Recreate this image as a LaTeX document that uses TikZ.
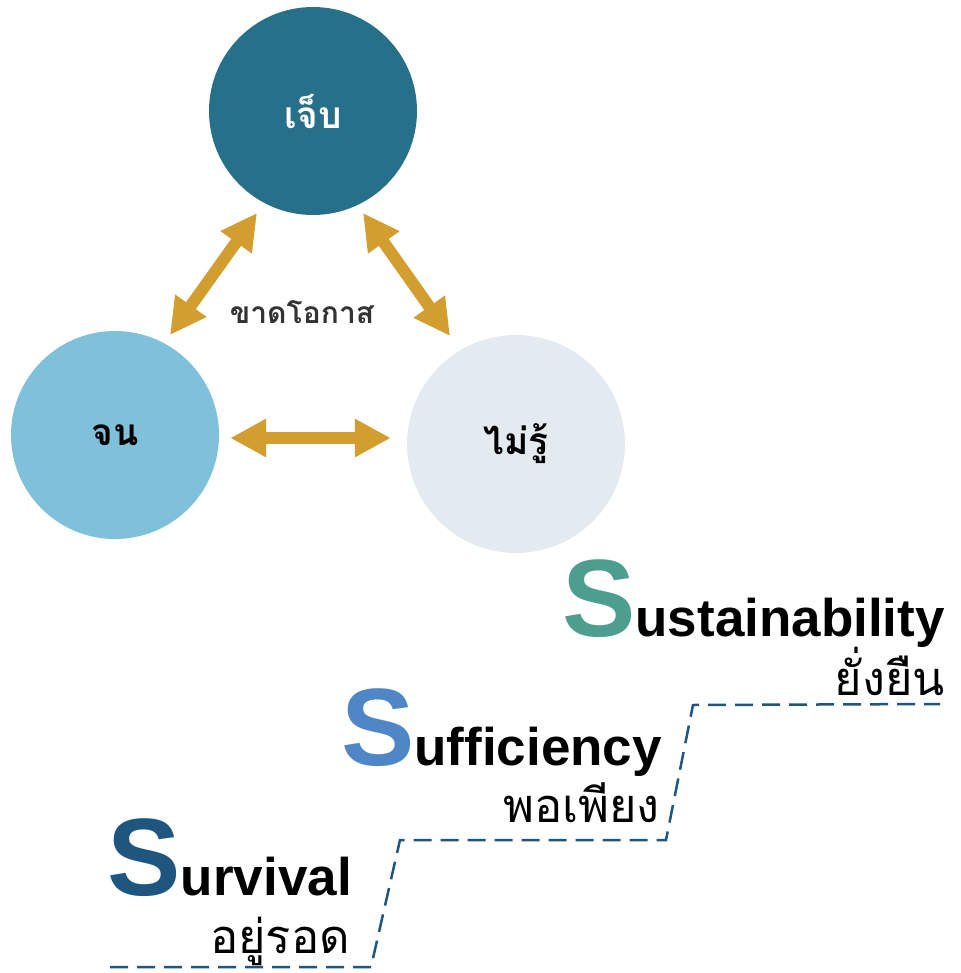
\documentclass[tikz,border=0pt]{standalone}
\usepackage{fontspec}
\setmainfont{Liberation Sans}
\newfontfamily\thaifont[Script=Thai]{Loma}
\usetikzlibrary{arrows.meta,calc}
\definecolor{cTop}{RGB}{39,112,138}
\definecolor{cLeft}{RGB}{127,192,219}
\definecolor{cRight}{RGB}{227,235,240}
\definecolor{cGold}{RGB}{210,158,47}
\definecolor{cTeal}{RGB}{78,158,143}
\definecolor{cBlue}{RGB}{79,134,198}
\definecolor{cDark}{RGB}{31,86,128}
\definecolor{cLabel}{RGB}{51,51,51}
\tikzset{
  circ/.style={circle,inner sep=0pt,draw=none},
  twoway/.style={cGold,line width=12pt,{Triangle[width=36pt,length=36pt]}-{Triangle[width=36pt,length=36pt]}},
  thlabel/.style={font=\thaifont\bfseries\fontsize{37}{42}\selectfont},
  ssub/.style={font=\thaifont\fontsize{47}{52}\selectfont,inner sep=0pt,anchor=base east},
  sword/.style={inner sep=0pt,anchor=base east,font=\bfseries\fontsize{53}{60}\selectfont},
  stair/.style={cDark,line width=2.5pt,dash pattern=on 18pt off 9pt}
}
\newcommand{\bigS}[1]{{\color{#1}\fontsize{110}{110}\selectfont S}}
\begin{document}
\begin{tikzpicture}[x=1pt,y=-1pt]
\useasboundingbox (0,0) rectangle (960,973);
\node[circ,fill=cTop,minimum size=208pt,text=white,thlabel] (jeb) at (313,111) {เจ็บ};
\node[circ,fill=cLeft,minimum size=208pt,text=black,thlabel] (jon) at (115,435) {จน};
\node[circ,fill=cRight,minimum size=218pt,text=black,thlabel] (mairu) at (516,444) {ไม่รู้};
\node[font=\thaifont\bfseries\fontsize{30}{34}\selectfont,text=cLabel] (lack) at (302,312) {ขาดโอกาส};
\draw[twoway] ($(jeb.center)+(-56,102)$) -- ($(jon.center)+(55,-100)$);
\draw[twoway] ($(jeb.center)+(50,102)$) -- ($(mairu.center)+(-66,-108)$);
\draw[twoway] ($(jon.east)+(11,3)$) -- ($(mairu.west)+(-16,-6)$);
\node[sword] (sus) at (945,636) {\bigS{cTeal}ustainability};
\node[ssub] (sust) at (945,695) {ยั่งยืน};
\node[sword] (suf) at (662,765) {\bigS{cBlue}ufficiency};
\node[ssub] (suft) at (660,822) {พอเพียง};
\node[sword] (sur) at (352,895) {\bigS{cDark}urvival};
\node[ssub] (surt) at (350,953) {อยู่รอด};
\coordinate (d0) at (110,967);
\coordinate (d1) at (371,967);
\coordinate (d2) at (400,840);
\coordinate (d3) at (666,840);
\coordinate (d4) at (693,705);
\coordinate (d5) at (940,704);
\draw[stair] (d0) -- (d1) -- (d2) -- (d3) -- (d4) -- (d5);
\end{tikzpicture}
\end{document}
